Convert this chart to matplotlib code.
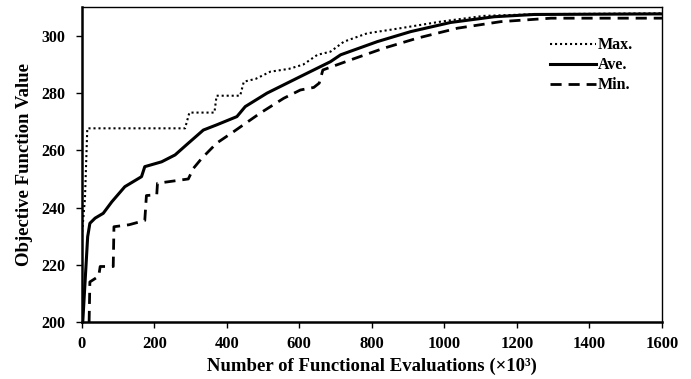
import matplotlib
matplotlib.use("Agg")
import matplotlib.pyplot as plt

# convergence history, evaluations in thousands
max_x = [0, 1, 9, 15.5, 285, 297, 366, 372, 437, 447, 480, 520, 572, 611,
         650, 686, 723, 787, 879, 990, 1109, 1250, 1600]
max_y = [200, 231, 243, 267.7, 267.7, 273.2, 273.2, 279.1, 279.1, 284, 285,
         287.5, 288.5, 290, 293.4, 294.5, 298, 300.9, 302.7, 305, 307,
         307.6, 307.9]

ave_x = [3, 16.5, 22.6, 37, 59.5, 83, 119, 165, 174, 220.5, 257.5, 294, 335.5,
         372, 428, 451, 511, 557, 603, 686, 714, 815, 907, 1017, 1137, 1248, 1600]
ave_y = [200, 229.8, 234.5, 236.3, 238, 242, 247.3, 250.8, 254.3, 256, 258.4,
         262.5, 267.1, 268.9, 271.8, 275.3, 280, 282.9, 285.8, 291, 293.4, 298,
         301.5, 304.7, 306.7, 307.5, 307.7]

min_x = [20.5, 22.6, 47, 51, 87, 89, 131, 174, 178.5, 207, 209, 294, 308, 331,
         372, 418.5, 492, 557, 603, 640, 655, 665, 741, 833, 925, 1036, 1156,
         1294, 1600]
min_y = [200, 214, 216, 219.4, 219.4, 233.3, 234, 235.5, 244.2, 244.5, 248.5,
         250, 253.7, 257.2, 262.5, 266.5, 273, 278.2, 281.1, 282, 283.5, 288.1,
         291.6, 295.7, 299.2, 302.7, 305, 306.2, 306.2]

plt.rcParams['font.family'] = 'Liberation Serif'
plt.rcParams['font.weight'] = 'bold'
plt.rcParams['font.size'] = 12

fig = plt.figure(figsize=(6.91, 3.79), dpi=100)
ax = fig.add_axes([0.1182, 0.1504, 0.8398, 0.8303])

ax.plot(max_x, max_y, color='black', linestyle=(0, (1, 1.4)), linewidth=1.5, label='Max.')
ax.plot(ave_x, ave_y, color='black', linestyle='-', linewidth=2.2, label='Ave.')
ax.plot(min_x, min_y, color='black', linestyle=(0, (4, 2.5)), linewidth=2.0, label='Min.')

ax.set_xlim(0, 1600)
ax.set_ylim(200, 310.0)
ax.set_xticks(range(0, 1601, 200))
ax.set_yticks(range(200, 301, 20))
ax.tick_params(direction='out', length=4, width=1)
ax.tick_params(axis='y', pad=8, labelsize=11.5)
ax.tick_params(axis='x', pad=6, labelsize=12)
for s in ax.spines.values():
    s.set_linewidth(1.0)
ax.spines['bottom'].set_linewidth(1.8)
ax.spines['left'].set_linewidth(1.8)

ax.set_xlabel('Number of Functional Evaluations (\u00d710\u00b3)', fontweight='bold',
              fontsize=13.5, labelpad=4)
ax.set_ylabel('Objective Function Value', fontweight='bold', fontsize=13.5, labelpad=6)

ax.legend(loc='upper right', bbox_to_anchor=(0.950, 0.905), borderpad=0,
          borderaxespad=0, frameon=False, handlelength=2.9, handletextpad=0.1,
          labelspacing=0.25,
          prop={'family': 'Liberation Serif', 'weight': 'bold', 'size': 11.5})

fig.savefig('out.png', dpi=100)
